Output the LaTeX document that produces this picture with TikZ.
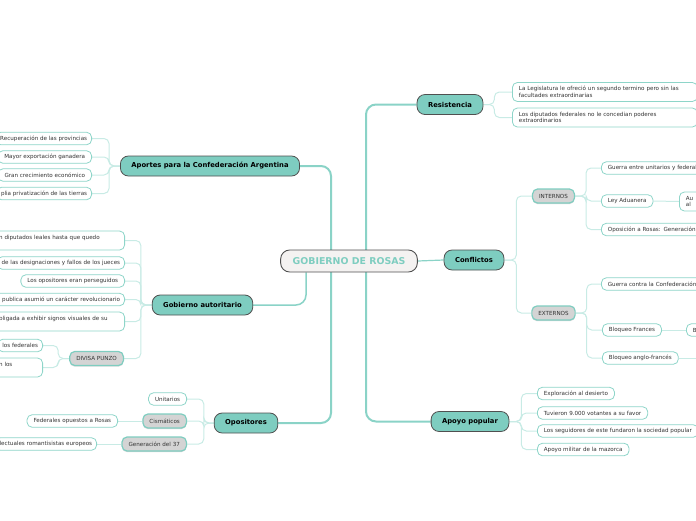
\documentclass[tikz,border=0pt]{standalone}
\usepackage{fontspec}
\setmainfont{DejaVu Sans}
\usetikzlibrary{backgrounds,shadows}
\definecolor{mmteal}{RGB}{126,205,192}
\definecolor{mmline}{RGB}{138,211,199}
\definecolor{mmtwig}{RGB}{200,235,229}
\definecolor{mmleaf}{RGB}{142,213,201}
\definecolor{mmgray}{RGB}{212,212,212}
\definecolor{mmdark}{RGB}{80,80,80}
\definecolor{mmroot}{RGB}{244,242,241}
\definecolor{mmtext}{RGB}{51,51,51}

\begin{document}
\begin{tikzpicture}[x=1pt, y=-1pt,
    root/.style={draw=mmdark, line width=0.9pt, fill=mmroot, rounded corners=9, minimum height=22, inner xsep=12, text=mmteal, font=\bfseries\fontsize{9.4}{11}\selectfont},
    topic/.style={draw=mmdark, line width=0.8pt, fill=mmteal, rounded corners=8, minimum height=20, inner xsep=11, font=\bfseries\fontsize{6.8}{8}\selectfont},
    leaf/.style={draw=mmleaf, line width=0.8pt, fill=white, rounded corners=5, minimum height=12.5, inner xsep=6.5, inner ysep=1.5, text=mmtext, font=\fontsize{5.6}{6.6}\selectfont},
    leafcut/.style={leaf, inner xsep=4.5},
    leaftwo/.style={leaf, align=left, minimum height=19},
    group/.style={leaf, fill=mmgray, draw=mmteal, line width=1.2pt, minimum height=14, drop shadow={shadow xshift=0pt, shadow yshift=-1.2pt, opacity=0.3}},
    trunk/.style={draw=mmline, line width=2pt, rounded corners=10},
    twig/.style={draw=mmtwig, line width=1pt, rounded corners=5}
  ]
    \useasboundingbox (0,0) rectangle (696,520);
    \clip (0,0) rectangle (696,520);

    \node[root] (root) at (349,261) {GOBIERNO DE ROSAS};
    \node[topic] (aportes) at (210,166) {Aportes para la Confederación Argentina};
    \node[topic] (autorit) at (202.5,305) {Gobierno autoritario};
    \node[topic] (oposit) at (246,423) {Opositores};
    \node[topic] (resist) at (450,104.5) {Resistencia};
    \node[topic] (conflic) at (474,260) {Conflictos};
    \node[topic] (apoyo) at (470,421.5) {Apoyo popular};

    \node[leafcut, anchor=east] (prov) at (92,138.5) {Recuperación de las provincias};
    \node[leaf, anchor=east] (export) at (92,157) {Mayor exportación ganadera};
    \node[leaf, anchor=east] (crec) at (92,175) {Gran crecimiento económico};
    \node[leafcut, anchor=east] (tierras) at (92,193.5) {plia privatización de las tierras};

    \node[leaftwo, anchor=east, text width=119] (legis) at (125,240.5) {n diputados leales hasta que quedo\\\mbox{}};
    \node[leafcut, anchor=east] (jueces) at (125,263) {de las designaciones y fallos de los jueces};
    \node[leaf, anchor=east] (persig) at (125,281) {Los opositores eran perseguidos};
    \node[leafcut, anchor=east] (prensa) at (125,299.5) {a publica asumió un carácter revolucionario};
    \node[leaftwo, anchor=east, text width=119] (signos) at (125,321.5) {bligada a exhibir signos visuales de su\\\mbox{}};
    \node[group, anchor=east] (divisa) at (124,358.5) {DIVISA PUNZO};
    \node[leafcut, anchor=east] (fedes) at (43,345.5) {los federales};
    \node[leaftwo, anchor=east, text width=37] (punzo) at (43,367.5) {n los\\\mbox{}};

    \node[leaf, anchor=east] (unit) at (187,399) {Unitarios};
    \node[group, anchor=east] (cism) at (187,421) {Cismáticos};
    \node[leaf, anchor=east] (fedop) at (118,421) {Federales opuestos a Rosas};
    \node[group, anchor=east] (gen37) at (187,444) {Generación del 37};
    \node[leafcut, anchor=east] (intel) at (97,444) {lectuales romantisistas europeos};

    \node[leaftwo, anchor=west, text width=172] (termino) at (512,92) {La Legislatura le ofreció un segundo termino pero sin las\\facultades extraordinarias};
    \node[leaftwo, anchor=west, text width=172] (poderes) at (512,117.5) {Los diputados federales no le concedian poderes\\extraordinarios};

    \node[group] (intern) at (553.5,196) {INTERNOS};
    \node[group] (extern) at (553.5,313) {EXTERNOS};
    \node[leaf, anchor=west, text width=110, align=left] (guerra) at (601,168) {Guerra entre unitarios y federales};
    \node[leaf, anchor=west] (aduana) at (601,201) {Ley Aduanera};
    \node[leaftwo, anchor=west, text width=40] (arancel) at (679,201.5) {Au\\al};
    \node[leaf, anchor=west, text width=110, align=left] (oposic) at (601,229.5) {Oposición a Rosas: Generación d};
    \node[leaf, anchor=west, text width=110, align=left] (confed) at (601,284) {Guerra contra la Confederación};
    \node[leaf, anchor=west] (frances) at (602,330) {Bloqueo Frances};
    \node[leaf, anchor=west, text width=40, align=left] (bloqueo) at (686,330) {B};
    \node[leaf, anchor=west] (anglo) at (602,358) {Bloqueo anglo-francés};
    \coordinate (angloend) at (700,358);

    \node[leaf, anchor=west] (explor) at (537,393.5) {Exploración al desierto};
    \node[leaf, anchor=west] (votant) at (537,413) {Tuvieron 9.000 votantes a su favor};
    \node[leaf, anchor=west] (socied) at (537,431) {Los seguidores de este fundaron la sociedad popular};
    \node[leaf, anchor=west] (mazorc) at (537,449.5) {Apoyo militar de la mazorca};

    \begin{scope}[on background layer]
      \draw[trunk] (aportes.east) -| ([xshift=-18pt]root.center);
      \draw[trunk] (oposit.east) -| ([xshift=-18pt]root.center);
      \draw[trunk, line width=1.5pt] (autorit.east) -| ([xshift=-43pt]root.south);
      \draw[trunk] (resist.west) -| ([xshift=17pt]root.center);
      \draw[trunk] (apoyo.west) -| ([xshift=17pt]root.center);
      \draw[trunk, line width=1.2pt] (conflic.west) -- (root.east);

      \draw[twig] (aportes.west) -- ++(-11,0) |- (prov.east);
      \draw[twig] (aportes.west) -- ++(-11,0) |- (export.east);
      \draw[twig] (aportes.west) -- ++(-11,0) |- (crec.east);
      \draw[twig] (aportes.west) -- ++(-11,0) |- (tierras.east);

      \draw[twig] (autorit.west) -- ++(-11,0) |- (legis.east);
      \draw[twig] (autorit.west) -- ++(-11,0) |- (jueces.east);
      \draw[twig] (autorit.west) -- ++(-11,0) |- (persig.east);
      \draw[twig] (autorit.west) -- ++(-11,0) |- (prensa.east);
      \draw[twig] (autorit.west) -- ++(-11,0) |- (signos.east);
      \draw[twig] (autorit.west) -- ++(-11,0) |- (divisa.east);
      \draw[twig] (divisa.west) -- ++(-11,0) |- (fedes.east);
      \draw[twig] (divisa.west) -- ++(-11,0) |- (punzo.east);

      \draw[twig] (oposit.west) -- ++(-10,0) |- (unit.east);
      \draw[twig] (oposit.west) -- ++(-10,0) |- (cism.east);
      \draw[twig] (oposit.west) -- ++(-10,0) |- (gen37.east);
      \draw[twig] (cism.west) -- (fedop.east);
      \draw[twig] (gen37.west) -- (intel.east);

      \draw[twig] (resist.east) -- ++(11,0) |- (termino.west);
      \draw[twig] (resist.east) -- ++(11,0) |- (poderes.west);

      \draw[twig] (conflic.east) -- ++(12,0) |- (intern.west);
      \draw[twig] (conflic.east) -- ++(12,0) |- (extern.west);
      \draw[twig] (intern.east) -- ++(11,0) |- (guerra.west);
      \draw[twig] (intern.east) -- ++(11,0) |- (aduana.west);
      \draw[twig] (intern.east) -- ++(11,0) |- (oposic.west);
      \draw[twig] (aduana.east) -- (arancel.west);
      \draw[twig] (extern.east) -- ++(11,0) |- (confed.west);
      \draw[twig] (extern.east) -- ++(11,0) |- (frances.west);
      \draw[twig] (extern.east) -- ++(11,0) |- (anglo.west);
      \draw[twig] (frances.east) -- (bloqueo.west);
      \draw[twig] (anglo.east) -- (angloend);

      \draw[twig] (apoyo.east) -- ++(12,0) |- (explor.west);
      \draw[twig] (apoyo.east) -- ++(12,0) |- (votant.west);
      \draw[twig] (apoyo.east) -- ++(12,0) |- (socied.west);
      \draw[twig] (apoyo.east) -- ++(12,0) |- (mazorc.west);
    \end{scope}
  \end{tikzpicture}
\end{document}
